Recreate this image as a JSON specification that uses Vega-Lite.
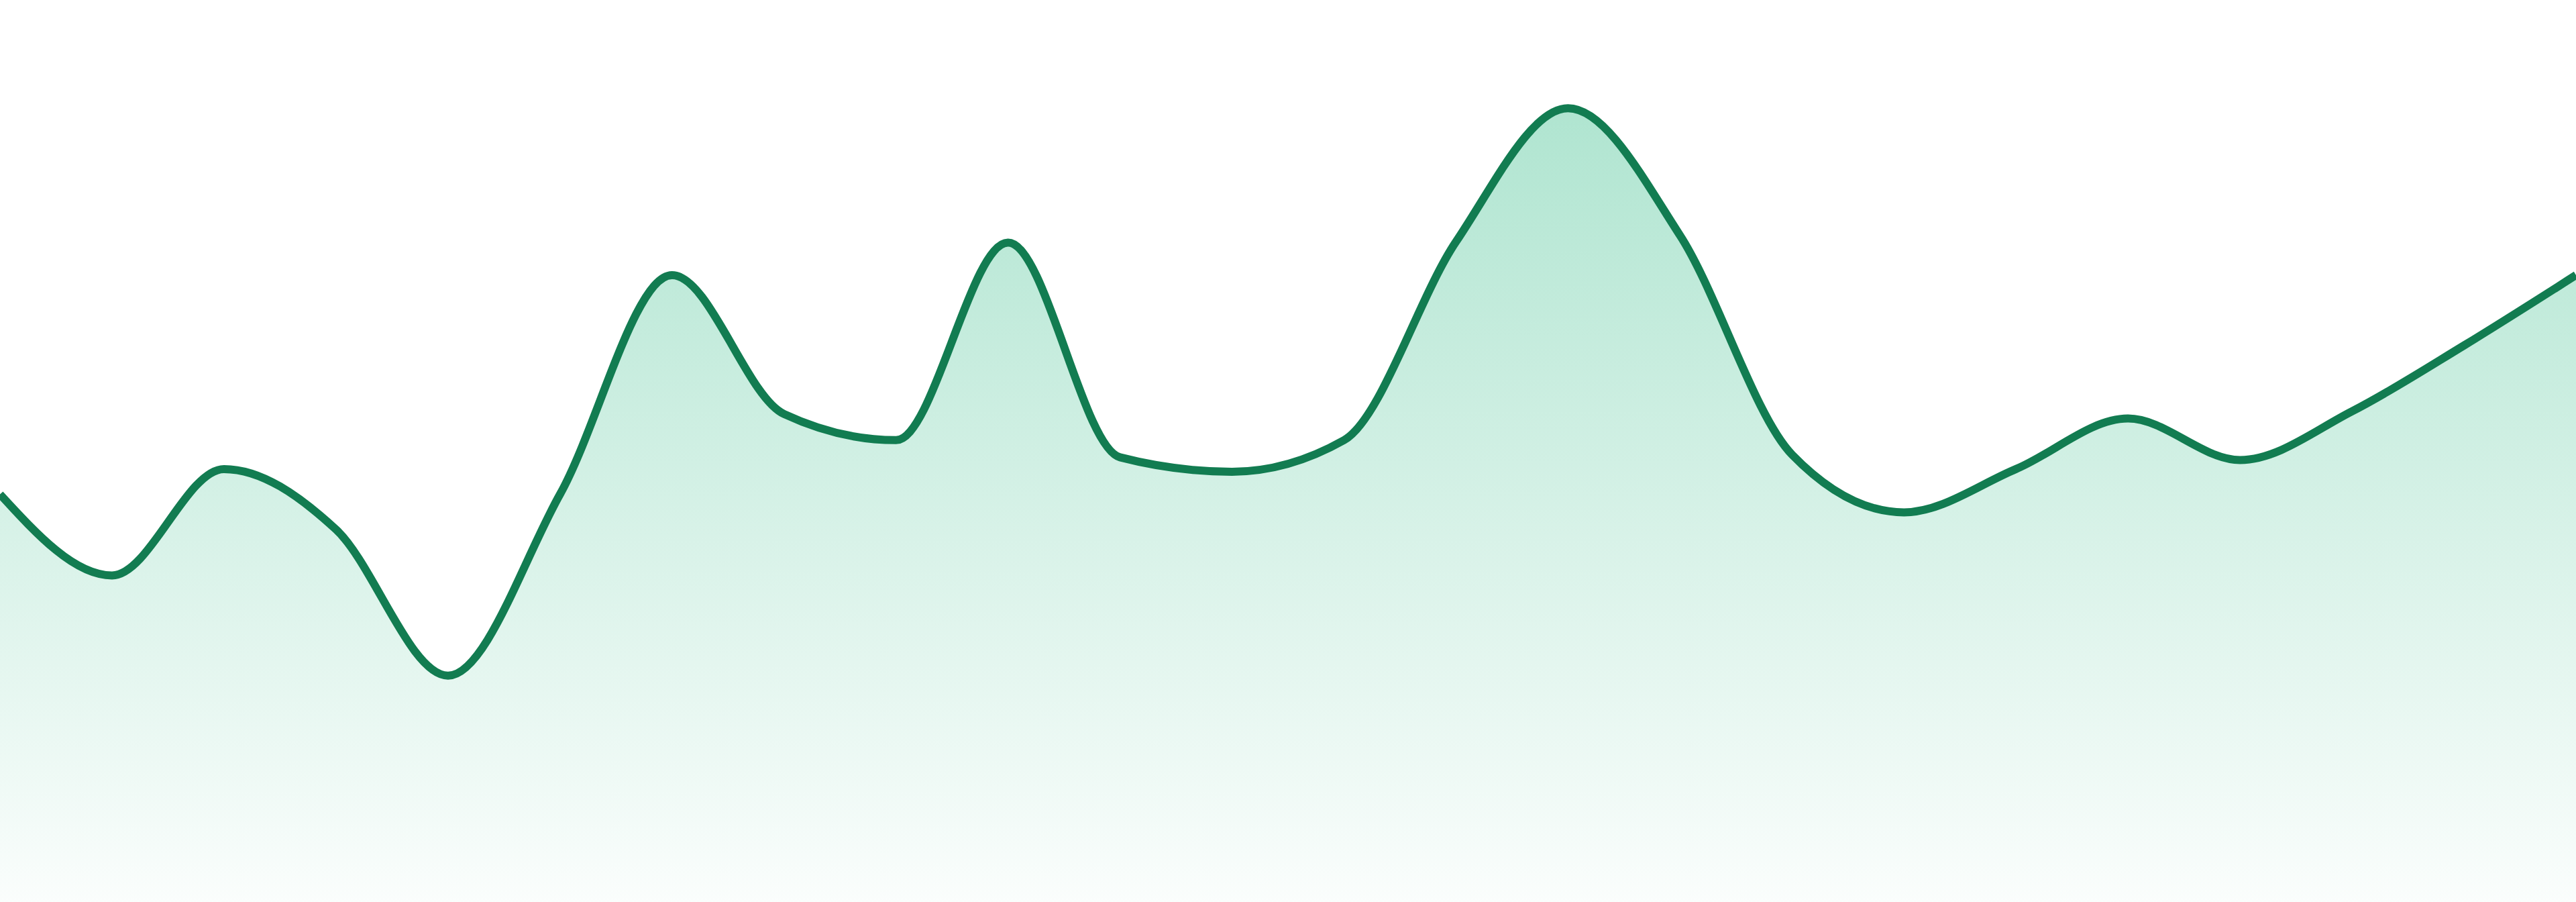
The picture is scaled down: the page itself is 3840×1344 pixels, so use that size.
{
  "$schema": "https://vega.github.io/schema/vega-lite/v6.json",
  "width": 3840,
  "height": 1344,
  "autosize": {"type": "fit", "contains": "padding"},
  "padding": 0,
  "background": "white",
  "config": {"view": {"stroke": null}},
  "data": {
    "values": [
      {"i": 0, "v": 45.2}, {"i": 1, "v": 36.2}, {"i": 2, "v": 48.0}, {"i": 3, "v": 41.3},
      {"i": 4, "v": 25.1}, {"i": 5, "v": 45.2}, {"i": 6, "v": 69.5}, {"i": 7, "v": 54.1},
      {"i": 8, "v": 51.2}, {"i": 9, "v": 73.1}, {"i": 10, "v": 49.3}, {"i": 11, "v": 47.7},
      {"i": 12, "v": 51.2}, {"i": 13, "v": 73.2}, {"i": 14, "v": 88.0}, {"i": 15, "v": 73.9},
      {"i": 16, "v": 49.6}, {"i": 17, "v": 43.2}, {"i": 18, "v": 48.0}, {"i": 19, "v": 53.6},
      {"i": 20, "v": 49.0}, {"i": 21, "v": 54.4}, {"i": 22, "v": 61.7}, {"i": 23, "v": 69.5}
    ]
  },
  "encoding": {
    "x": {"field": "i", "type": "quantitative", "scale": {"domain": [0, 23], "nice": false, "zero": false}, "axis": null},
    "y": {"field": "v", "type": "quantitative", "scale": {"domain": [0, 100], "nice": false}, "axis": null}
  },
  "layer": [
    {
      "mark": {
        "type": "area",
        "interpolate": "monotone",
        "clip": true,
        "color": {
          "gradient": "linear",
          "x1": 0, "y1": 0, "x2": 0, "y2": 1,
          "stops": [
            {"offset": 0, "color": "rgba(22,178,118,0.34)"},
            {"offset": 1, "color": "rgba(22,178,118,0.02)"}
          ]
        }
      }
    },
    {
      "mark": {"type": "line", "interpolate": "monotone", "clip": true, "color": "#127c51", "strokeWidth": 12}
    }
  ]
}
